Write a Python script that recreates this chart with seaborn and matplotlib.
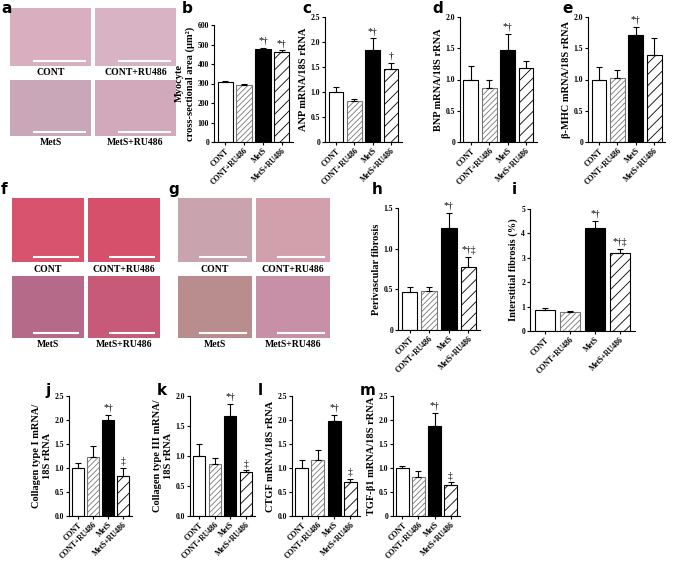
import numpy as np
import pandas as pd
import matplotlib
matplotlib.use("Agg")
import matplotlib.pyplot as plt
import seaborn as sns

plt.rcParams["hatch.linewidth"] = 0.6
plt.rcParams["font.family"] = "Liberation Serif"

groups = ["CONT", "CONT+RU486", "MetS", "MetS+RU486"]

area = [307, 290, 476, 464]
area_err = [6, 5, 8, 6]
anp = [1.00, 0.82, 1.85, 1.47]
anp_err = [0.11, 0.05, 0.22, 0.11]
bnp = [1.00, 0.86, 1.48, 1.18]
bnp_err = [0.21, 0.14, 0.25, 0.12]
mhc = [1.00, 1.02, 1.72, 1.40]
mhc_err = [0.20, 0.13, 0.12, 0.27]
periv = [0.47, 0.48, 1.25, 0.78]
periv_err = [0.06, 0.05, 0.19, 0.12]
inter = [0.85, 0.76, 4.23, 3.18]
inter_err = [0.08, 0.07, 0.27, 0.18]
col1 = [1.00, 1.22, 1.99, 0.83]
col1_err = [0.10, 0.24, 0.12, 0.17]
col3 = [1.00, 0.86, 1.66, 0.73]
col3_err = [0.20, 0.10, 0.21, 0.03]
ctgf = [1.00, 1.17, 1.97, 0.70]
ctgf_err = [0.17, 0.21, 0.13, 0.07]
tgfb = [1.00, 0.82, 1.88, 0.65]
tgfb_err = [0.04, 0.12, 0.27, 0.05]

W, H = 685, 566
fig = plt.figure(figsize=(W / 100, H / 100), dpi=100)


def px_axes(x0, y0, x1, y1):
    return fig.add_axes([x0 / W, 1 - y1 / H, (x1 - x0) / W, (y1 - y0) / H])


def letter_at(x, y, letter):
    # x, y = top-left corner in pixels
    fig.text(x / W, 1 - y / H, letter, fontsize=11, fontweight="bold",
             family="DejaVu Sans", ha="left", va="top")


def bar_panel(rect, vals, errs, ylabel, ymax, step, marks, letter, lpos,
              fmt="{:.1f}", zero="0"):
    ax = px_axes(*rect)
    df = pd.DataFrame({"group": groups, "value": vals})
    sns.barplot(data=df, x="group", y="value", ax=ax, color="white",
                edgecolor="black", linewidth=0.8, width=0.8)
    styles = [("white", "", "black"), ("white", "//////", "#777777"),
              ("black", "", "black"), ("white", "///", "black")]
    for p, (fc, ht, hc) in zip(ax.patches, styles):
        p.set_facecolor(fc)
        p.set_hatch(ht)
        p.set_edgecolor(hc)
    ax.errorbar(range(4), vals, yerr=[np.zeros(4), errs], fmt="none",
                ecolor="black", elinewidth=0.8, capsize=2.5, capthick=0.8)
    for i, m in enumerate(marks):
        if m:
            ax.text(i, vals[i] + errs[i] + ymax * 0.02, m, ha="center",
                    va="bottom", fontsize=7)
    ax.set_ylim(0, ymax)
    ticks = np.arange(0, ymax + 1e-9, step)
    ax.set_yticks(ticks)
    ax.set_yticklabels([zero] + [fmt.format(t) for t in ticks[1:]],
                       fontsize=5.5, fontweight="bold")
    ax.set_xticks(range(4))
    ax.set_xticklabels(groups, rotation=45, ha="right", rotation_mode="anchor",
                       fontsize=5.5, fontweight="bold")
    ax.set_xlabel("")
    ax.set_ylabel(ylabel, fontsize=7.5, fontweight="bold", labelpad=2)
    ax.tick_params(length=2, width=0.8, pad=1.5)
    sns.despine(ax=ax)
    letter_at(*lpos, letter)
    return ax


def image_panel(x0, y0, x1, y1, colors, labels, letter, lpos):
    mx, my = (x0 + x1) / 2, (y0 + y1) / 2
    boxes = [(x0, y0, mx - 2, my - 12), (mx + 2, y0, x1, my - 12),
             (x0, my + 2, mx - 2, y1 - 12), (mx + 2, my + 2, x1, y1 - 12)]
    for (a, b, c, d), col, lab in zip(boxes, colors, labels):
        ax = px_axes(a, b, c, d)
        ax.set_facecolor(col)
        ax.set_xticks([])
        ax.set_yticks([])
        for s in ax.spines.values():
            s.set_visible(False)
        ax.plot([0.3, 0.92], [0.08, 0.08], color="white", lw=1.5,
                transform=ax.transAxes)
        ax.text(0.5, -0.04, lab, transform=ax.transAxes, ha="center",
                va="top", fontsize=7, fontweight="bold")
    letter_at(*lpos, letter)


image_panel(10, 8, 176, 148, ["#d9aebf", "#d7b3c3", "#c9a6b8", "#d1a9ba"],
            groups, "a", (1, 1))
image_panel(12, 198, 160, 350, ["#d8536e", "#d6506c", "#b66a8a", "#c65a78"],
            groups, "f", (1, 182))
image_panel(178, 198, 330, 350, ["#c9a3ad", "#d2a0ad", "#b98d8e", "#c890a6"],
            groups, "g", (168, 182))

bar_panel((214, 25, 293, 142), area, area_err,
          "Myocyte\ncross-sectional area (µm²)", 600, 100,
          ["", "", "*†", "*†"], "b", (182, 1), fmt="{:.0f}")
bar_panel((325, 17, 402, 142), anp, anp_err, "ANP mRNA/18S rRNA", 2.5, 0.5,
          ["", "", "*†", "†"], "c", (302, 1))
bar_panel((460, 17, 537, 142), bnp, bnp_err, "BNP mRNA/18S rRNA", 2.0, 0.5,
          ["", "", "*†", ""], "d", (432, 1))
bar_panel((588, 17, 665, 142), mhc, mhc_err, "β-MHC mRNA/18S rRNA", 2.0, 0.5,
          ["", "", "*†", ""], "e", (562, 1))
bar_panel((398, 208, 480, 330), periv, periv_err, "Perivascular fibrosis",
          1.5, 0.5, ["", "", "*†", "*†‡"], "h", (372, 182))
bar_panel((530, 209, 635, 331), inter, inter_err, "Interstitial fibrosis (%)",
          5, 1, ["", "", "*†", "*†‡"], "i", (512, 182), fmt="{:.0f}")
bar_panel((69, 396, 132, 516), col1, col1_err,
          "Collagen type I mRNA/\n18S rRNA", 2.5, 0.5, ["", "", "*†", "‡"],
          "j", (45, 383), zero="0.0")
bar_panel((190, 396, 255, 516), col3, col3_err,
          "Collagen type III mRNA/\n18S rRNA", 2.0, 0.5, ["", "", "*†", "‡"],
          "k", (157, 383), zero="0.0")
bar_panel((292, 396, 360, 516), ctgf, ctgf_err, "CTGF mRNA/18S rRNA",
          2.5, 0.5, ["", "", "*†", "‡"], "l", (258, 383), zero="0.0")
bar_panel((393, 396, 460, 516), tgfb, tgfb_err, "TGF-β1 mRNA/18S rRNA",
          2.5, 0.5, ["", "", "*†", "‡"], "m", (360, 383))

fig.savefig("out.png", dpi=100)
